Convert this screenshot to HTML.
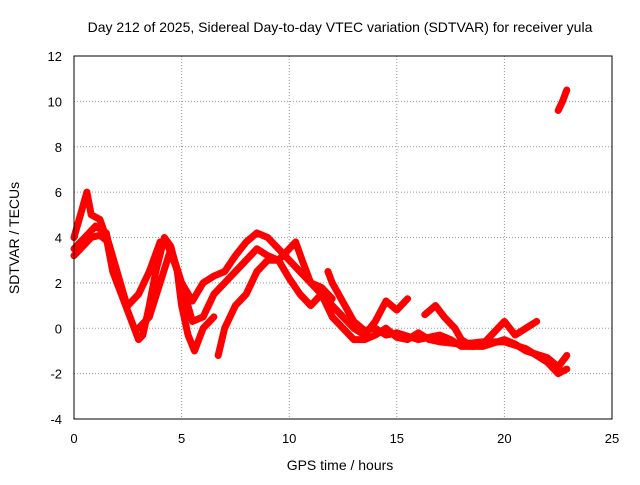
<!DOCTYPE html>
<html><head><meta charset="utf-8"><style>
body{margin:0;background:#fff}
svg text{font-family:"Liberation Sans",sans-serif;font-size:13px;fill:#000}
</style></head><body>
<svg id="chart" width="640" height="480" xmlns="http://www.w3.org/2000/svg">
<rect width="640" height="480" fill="#fff"/>
<text x="340" y="32" text-anchor="middle" style="font-size:14px">Day 212 of 2025, Sidereal Day-to-day VTEC variation (SDTVAR) for receiver yula</text>
<text x="340" y="470" text-anchor="middle" style="font-size:14px">GPS time / hours</text>
<text transform="translate(19,238) rotate(-90)" text-anchor="middle" style="font-size:14px">SDTVAR / TECUs</text>
<g id="grid"></g><g id="ticks"></g><g id="marks"></g>
<rect x="74" y="56" width="538" height="363" fill="none" stroke="#000" stroke-width="1"/>
</svg>
<script>
const xTicks=[0,5,10,15,20,25];
const yTicks=[-4,-2,0,2,4,6,8,10,12];
const seriesA=[[0,4],[0.3,5],[0.6,6],[0.8,5],[1.2,4.8],[1.5,4],[1.8,2.5],[2.2,1.5],[2.6,0.5],[3,-0.5],[3.2,-0.3],[3.5,1],[3.8,2.5],[4.2,4],[4.5,3.6],[4.8,2.5],[5,1],[5.3,-0.3],[5.6,-1],[6,0],[6.5,0.5]];
const seriesB=[[0,3.5],[0.5,4],[1,4.5],[1.5,4.2],[2,2],[2.5,1],[3,1.5],[3.5,2.5],[4,3.8],[4.3,3.8],[4.7,2.8],[5,2],[5.5,1.2],[6,2],[6.5,2.3],[7,2.5],[7.5,3.2],[8,3.8],[8.5,4.2],[9,4],[9.5,3.5],[10,3],[10.5,2.5],[11,2],[11.5,1.8],[12,1.3]];
const seriesC=[[3,0],[3.5,0.5],[4,2],[4.5,3.5],[5,2],[5.5,0.3],[6,0.5],[6.5,1.5],[7,2],[7.5,2.5],[8,3],[8.5,3.5],[9,3.2],[9.5,3],[10,2.2],[10.5,1.5],[11,1],[11.5,1.5],[12,1],[12.5,0.5],[13,0],[13.5,-0.3],[14,0.3],[14.5,1.2],[15,0.8],[15.5,1.3]];
const seriesD=[[6.7,-1.2],[7,0],[7.5,1],[8,1.5],[8.5,2.5],[9,3],[9.5,3],[10,3.5],[10.3,3.8],[10.6,3],[11,2],[11.5,1.5],[12,0.5],[12.5,0],[13,-0.5],[13.5,-0.5],[14,-0.3],[14.5,0],[15,-0.4],[15.5,-0.5],[16,-0.2],[16.5,-0.5],[17,-0.6],[18,-0.7],[19,-0.6],[20,-0.6],[21,-0.9],[22,-1.5],[22.5,-2],[22.9,-1.8]];
const seriesE=[[11.8,2.5],[12,2],[13,0.3],[13.5,-0.1],[14,0],[14.5,-0.3],[15,-0.2],[16,-0.5],[17,-0.3],[17.5,-0.5],[18,-0.8],[19,-0.8],[20,-0.5],[20.5,-0.7],[21,-1],[22,-1.3],[22.5,-1.7],[22.9,-1.2]];
const seriesF=[[16.3,0.6],[16.8,1],[17.2,0.5],[17.7,0],[18,-0.5],[18.5,-0.8],[19,-0.7],[19.5,-0.2],[20,0.3],[20.5,-0.3],[21,0],[21.5,0.3]];
const seriesG=[[22.5,9.6],[22.7,10],[22.9,10.5]];
const seriesH=[[0,3.2],[0.4,3.6],[0.8,4],[1.2,4.1],[1.6,3.8],[2,2.5],[2.4,1.2]];
const allSeries=[seriesA,seriesB,seriesC,seriesD,seriesE,seriesF,seriesG,seriesH];
const NS="http://www.w3.org/2000/svg";
const X=v=>74+v*(538/25), Y=v=>419-(v+4)*(363/16);
function mk(t,a,p){const e=document.createElementNS(NS,t);for(const k in a)e.setAttribute(k,a[k]);p.appendChild(e);return e;}
const g=document.getElementById('grid'),tk=document.getElementById('ticks'),m=document.getElementById('marks');
xTicks.forEach(v=>{
 const l=mk('line',{x1:X(v),x2:X(v),y1:56,y2:419,stroke:'#999','stroke-dasharray':'1,2'},g);
 
 const t=mk('text',{x:X(v),y:443,'text-anchor':'middle'},tk);t.textContent=v;
 
});
yTicks.forEach(v=>{
 const l=mk('line',{x1:74,x2:612,y1:Y(v),y2:Y(v),stroke:'#999','stroke-dasharray':'1,2'},g);
 
 const t=mk('text',{x:62,y:Y(v)+5,'text-anchor':'end'},tk);t.textContent=v;
 
});
allSeries.forEach(s=>{
 const p=mk('polyline',{points:s.map(d=>X(d[0])+','+Y(d[1])).join(' '),fill:'none',stroke:'#f00','stroke-width':7,'stroke-linejoin':'round','stroke-linecap':'round'},m);
 
});
</script>
</body></html>
